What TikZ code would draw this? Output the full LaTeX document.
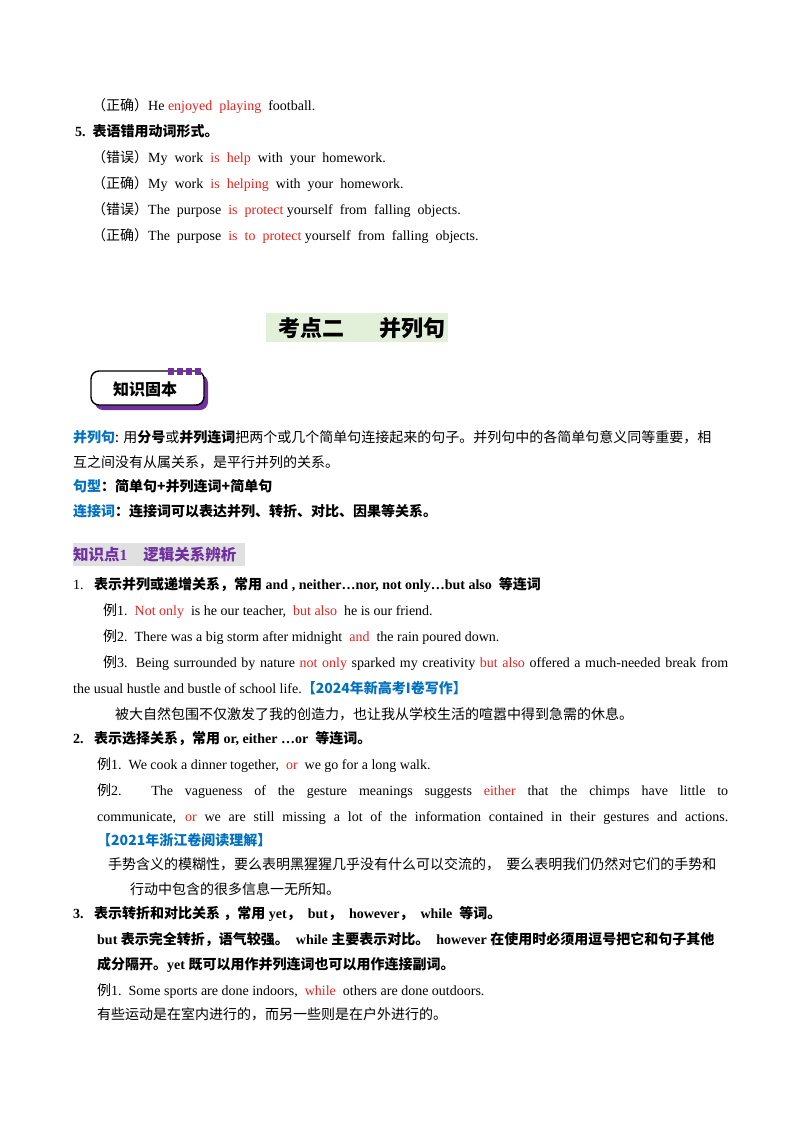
\documentclass[tikz,border=0pt]{standalone}
\usepackage{fontspec}
\setmainfont{Liberation Serif}
\newfontfamily\cjk{Noto Sans CJK SC}
\newcommand\C[1]{{\cjk #1}}
\newcommand\CB[1]{{\cjk\bfseries #1}}
\definecolor{rd}{HTML}{E8201E}
\definecolor{bl}{HTML}{0070C0}
\definecolor{pp}{HTML}{7030A0}
\definecolor{gbg}{HTML}{E2EFD9}
\newcommand\R[1]{\textcolor{rd}{#1}}
\begin{document}
\begin{tikzpicture}[x=1pt,y=-1pt,
 t/.style={anchor=base west,inner sep=0,font=\fontsize{14}{16}\selectfont},
 b/.style={t,font=\fontsize{14}{16}\selectfont\bfseries}]
\useasboundingbox (0,0) rectangle (800,1132);
\node[t] (a1) at (92,110) {\C{（正确）}He \R{enjoyed}\ \ \R{playing}\ \ football.};
\node[b] (a2) at (75,136) {5.\ \ \CB{表语错用动词形式。}};
\node[t] (a3) at (92,162) {\C{（错误）}My\ \ work\ \ \R{is\ \ help}\ \ with\ \ your\ \ homework.};
\node[t] (a4) at (92,188) {\C{（正确）}My\ \ work\ \ \R{is\ \ helping}\ \ with\ \ your\ \ homework.};
\node[t] (a5) at (92,214) {\C{（错误）}The\ \ purpose\ \ \R{is\ \ protect}\ yourself\ \ from\ \ falling\ \ objects.};
\node[t] (a6) at (92,240) {\C{（正确）}The\ \ purpose\ \ \R{is\ \ to\ \ protect}\ yourself\ \ from\ \ falling\ \ objects.};
% title
\fill[gbg] (266,313) rectangle (448,342);
\node[anchor=center,inner sep=0,font=\fontsize{22}{24}\selectfont] (ttl) at (362,328) {\CB{考点二\hspace{36pt}并列句}};
% badge
\fill[pp,rounded corners=8] (95,375) rectangle (208,410);
\draw[black,fill=white,line width=1.4,rounded corners=8] (91,371) rectangle (204,405);
\foreach \i in {0,1,2,3} \fill[pp] (168+\i*9,368) rectangle (174+\i*9,375);
\node[anchor=center,inner sep=0,font=\fontsize{16}{18}\selectfont] (bdg) at (145,389) {\CB{知识固本}};
% definitions
\node[t] (d1) at (73,442) {\textcolor{bl}{\CB{并列句}}\C{: 用\textbf{分号}或\textbf{并列连词}把两个或几个简单句连接起来的句子。并列句中的各简单句意义同等重要，相}};
\node[t] (d2) at (73,467) {\C{互之间没有从属关系，是平行并列的关系。}};
\node[t] (d3) at (73,491) {\textcolor{bl}{\CB{句型}}\CB{：简单句+并列连词+简单句}};
\node[t] (d4) at (73,516) {\textcolor{bl}{\CB{连接词}}\CB{：连接词可以表达并列、转折、对比、因果等关系。}};
% section
\fill[black!12] (73,543) rectangle (245,566);
\node[t,font=\fontsize{15.5}{17}\selectfont] (s1) at (73,560) {\textcolor{pp}{\CB{知识点}\textbf{1}\hspace{16pt}\CB{逻辑关系辨析}}};
\node[t] (n1) at (73,589) {1.\ \ \ \textbf{\CB{表示并列或递增关系，常用} and , neither…nor, not only…but also\ \ \CB{等连词}}};
\node[t] (e1) at (103,615) {\C{例}1.\ \ \R{Not only}\ \ is he our teacher,\ \ \R{but also}\ \ he is our friend.};
\node[t] (e2) at (103,641) {\C{例}2.\ \ There was a big storm after midnight\ \ \R{and}\ \ the rain poured down.};
\node[t] (e3) at (103,667) {\makebox[625pt][s]{\C{例}3. Being surrounded by nature \R{not only} sparked my creativity \R{but also} offered a much-needed break from}};
\node[t] (e3b) at (73,693) {the usual hustle and bustle of school life.\textcolor{bl}{\CB{【2024年新高考I卷写作】}}};
\node[t] (e3c) at (115,719) {\C{被大自然包围不仅激发了我的创造力，也让我从学校生活的喧嚣中得到急需的休息。}};
\node[t] (n2) at (73,743) {\textbf{2.\ \ \ \CB{表示选择关系，常用} or, either …or\ \ \CB{等连词。}}};
\node[t] (f1) at (97,769) {\C{例}1.\ \ We cook a dinner together,\ \ \R{or}\ \ we go for a long walk.};
\node[t] (f2) at (97,795) {\makebox[631pt][s]{\C{例}2. The vagueness of the gesture meanings suggests \R{either} that the chimps have little to}};
\node[t] (f2b) at (97,821) {\makebox[631pt][s]{communicate, \R{or} we are still missing a lot of the information contained in their gestures and actions.}};
\node[t] (f2c) at (97,845) {\textcolor{bl}{\CB{【2021年浙江卷阅读理解】}}};
\node[t] (f2d) at (108,869) {\C{手势含义的模糊性，要么表明黑猩猩几乎没有什么可以交流的，\ \ 要么表明我们仍然对它们的手势和}};
\node[t] (f2e) at (130,894) {\C{行动中包含的很多信息一无所知。}};
\node[t] (n3) at (73,918) {\textbf{3.\ \ \ \CB{表示转折和对比关系\ ，常用} yet\CB{，}\ \ but\CB{，}\ \ however\CB{，}\ \ while\ \ \CB{等词。}}};
\node[t] (g1) at (97,944) {\textbf{but \CB{表示完全转折，语气较强。}\ \ while \CB{主要表示对比。}\ \ however \CB{在使用时必须用逗号把它和句子其他}}};
\node[t] (g2) at (97,969) {\textbf{\CB{成分隔开。}yet \CB{既可以用作并列连词也可以用作连接副词。}}};
\node[t] (g3) at (97,995) {\C{例}1.\ \ Some sports are done indoors,\ \ \R{while}\ \ others are done outdoors.};
\node[t] (g4) at (97,1019) {\C{有些运动是在室内进行的，而另一些则是在户外进行的。}};
\end{tikzpicture}
\end{document}
